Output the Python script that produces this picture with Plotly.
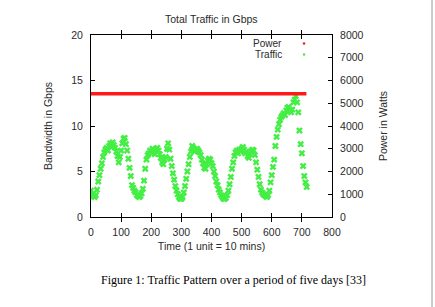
import plotly.graph_objects as go

# ---- data ----
time_units = list(range(0, 720, 4))
traffic_gbps = [
    2.9, 2.5, 2.3, 2.2, 2.4, 3.0, 3.9, 4.6, 5.3, 5.9, 6.6, 7.1, 7.4, 7.6, 7.3, 7.8, 8.1, 7.7, 8.2, 7.9,
    7.6, 7.2, 6.7, 6.0, 6.6, 7.3, 8.1, 8.6, 8.7, 8.0, 7.3, 6.4, 5.4, 4.5, 3.5, 3.2, 2.9, 2.7, 2.4, 2.3,
    2.2, 2.3, 2.6, 3.1, 4.0, 5.3, 6.3, 6.8, 7.0, 7.3, 7.1, 7.5, 7.3, 6.9, 7.4, 7.6, 7.3, 6.9, 6.5, 6.0,
    5.8, 6.3, 6.6, 7.5, 8.1, 7.4, 6.4, 5.6, 4.8, 4.1, 3.4, 2.9, 2.5, 2.2, 2.0, 2.0, 2.2, 2.7, 3.4, 4.2,
    5.0, 5.8, 6.6, 7.2, 7.8, 7.6, 7.2, 7.4, 7.5, 7.3, 7.1, 6.8, 6.3, 5.9, 5.4, 5.3, 5.8, 6.2, 6.4, 6.3,
    5.9, 5.6, 5.0, 4.5, 3.9, 3.5, 3.0, 2.7, 2.4, 2.2, 2.0, 2.0, 2.1, 2.4, 2.9, 3.6, 4.4, 5.3, 6.0, 6.7,
    7.1, 7.3, 7.0, 7.4, 7.2, 7.5, 7.7, 7.4, 7.0, 7.2, 6.7, 6.5, 6.9, 7.2, 7.4, 7.3, 6.8, 6.0, 5.2, 4.4,
    3.6, 3.0, 2.7, 2.5, 2.4, 2.3, 2.2, 2.4, 2.9, 3.8, 4.6, 5.5, 6.3, 7.8, 8.8, 9.6, 10.2, 10.7, 11.0, 11.2,
    11.4, 11.2, 11.7, 12.0, 12.1, 11.8, 11.5, 11.8, 12.6, 12.9, 13.3, 12.6, 11.5, 9.5, 8.0, 7.0, 5.6, 4.5, 3.8, 3.3,
]
power_time = [0, 715]
power_watts = [5415, 5415]

x_ticks = [0, 100, 200, 300, 400, 500, 600, 700, 800]
y_ticks = [0, 5, 10, 15, 20]
y2_ticks = [0, 1000, 2000, 3000, 4000, 5000, 6000, 7000, 8000]

legend_names = ["Power", "Traffic"]
title_text = "Total Traffic in Gbps"
x_title = "Time (1 unit = 10 mins)"
y_title = "Bandwidth in Gbps"
y2_title = "Power in Watts"
caption = "Figure 1: Traffic Pattern over a period of five days [33]"

RED = "#ff1a1a"
GREEN = "#44ee44"
TXT = "#2a2a2a"
FONT = "Liberation Sans, Arial, sans-serif"

fig = go.Figure()
fig.add_trace(go.Scatter(
    x=power_time, y=power_watts, yaxis="y2", mode="lines", name=legend_names[0],
    line=dict(color=RED, width=3.5), showlegend=False, hoverinfo="skip"))
fig.add_trace(go.Scatter(
    x=time_units, y=traffic_gbps, mode="markers", name=legend_names[1],
    marker=dict(symbol="x", size=6, color=GREEN, line=dict(width=0)),
    showlegend=False))

axis_common = dict(showline=True, linecolor="black", linewidth=1, ticks="inside", ticklen=4,
                   tickcolor="black", showgrid=False, zeroline=False, ticklabelstandoff=5,
                   tickfont=dict(family=FONT, size=10.5, color=TXT),
                   title_font=dict(family=FONT, size=10.5, color=TXT))

fig.update_layout(
    width=435, height=307,
    margin=dict(l=91, r=103, t=35, b=90),
    paper_bgcolor="white", plot_bgcolor="white",
    showlegend=False,
    xaxis=dict(range=[0, 800], tickvals=x_ticks, mirror="allticks",
               title=dict(text=x_title, standoff=6), **axis_common),
    yaxis=dict(range=[0, 20], tickvals=y_ticks, mirror=False,
               title=dict(text=y_title, standoff=16), **axis_common),
    yaxis2=dict(range=[0, 8000], tickvals=y2_ticks, overlaying="y", side="right",
                title=dict(text=y2_title, standoff=17), **axis_common),
)

annotations = [
    dict(text=title_text, x=0.5, y=1.088, xref="paper", yref="paper", showarrow=False,
         xanchor="center", yanchor="middle", font=dict(family=FONT, size=10.5, color=TXT)),
    dict(text=caption, x=0.593, y=-0.348, xref="paper", yref="paper", showarrow=False,
         xanchor="center", yanchor="middle",
         font=dict(family="Liberation Serif, Times New Roman, serif", size=12, color="black")),
]
key_y = [0.953, 0.893]
key_col = [RED, GREEN]
shapes = []
for name, ky, kc in zip(legend_names, key_y, key_col):
    annotations.append(dict(text=name, x=0.801, y=ky, xref="paper", yref="paper", showarrow=False,
                            xanchor="right", yanchor="middle",
                            font=dict(family=FONT, size=10, color=TXT)))
    shapes.append(dict(type="circle", xref="paper", yref="paper", xsizemode="pixel", ysizemode="pixel",
                       xanchor=0.884, yanchor=ky, x0=-1.3, x1=1.3, y0=-1.3, y1=1.3,
                       fillcolor=kc, line=dict(width=0)))
shapes.append(dict(type="line", xref="paper", yref="paper", x0=1.415, x1=1.415, y0=-0.5, y1=1.2,
                   line=dict(color="#aaaaaa", width=1.2)))
fig.update_layout(annotations=annotations, shapes=shapes)

fig.write_html("out.html")
